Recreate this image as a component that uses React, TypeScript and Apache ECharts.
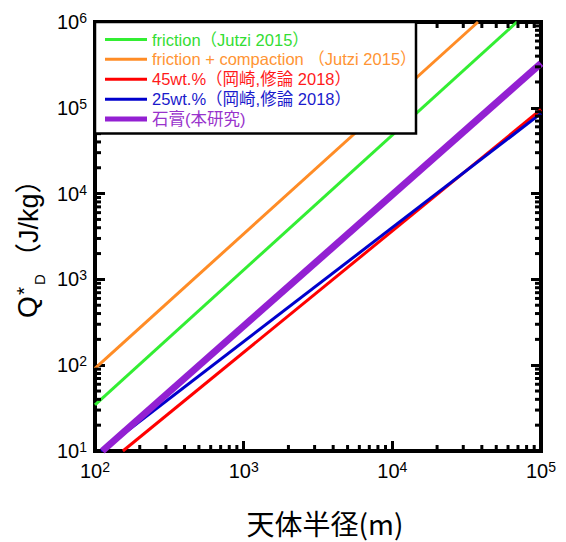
import React, { useEffect, useRef } from "react";
import * as echarts from "echarts";

// ---- data ----
const xMin = 100;
const xMax = 100000;
const yMin = 10;
const yMax = 1000000;

const seriesNames = [
  "friction（Jutzi 2015）",
  "friction + compaction （Jutzi 2015）",
  "45wt.%（岡崎,修論 2018）",
  "25wt.%（岡崎,修論 2018）",
  "石膏(本研究)",
];
const lineColors = ["#33ee33", "#ff8c26", "#ff0000", "#0000cc", "#9320d2"];
const textColors = ["#33dd33", "#ff9433", "#ff1a1a", "#1a1acc", "#9933cc"];

const frictionData = [[100, 34.5], [68900, 1000000]];
const compactionData = [[100, 92], [37700, 1000000]];
const wt45Data = [[154, 10], [100000, 95500]];
const wt25Data = [[110, 10], [100000, 86000]];
const gypsumData = [[112, 10], [100000, 330000]];

const xMinorTicks = [
  200, 300, 400, 500, 600, 700, 800, 900,
  2000, 3000, 4000, 5000, 6000, 7000, 8000, 9000,
  20000, 30000, 40000, 50000, 60000, 70000, 80000, 90000,
];
const yMinorTicks = [
  20, 30, 40, 50, 60, 70, 80, 90,
  200, 300, 400, 500, 600, 700, 800, 900,
  2000, 3000, 4000, 5000, 6000, 7000, 8000, 9000,
  20000, 30000, 40000, 50000, 60000, 70000, 80000, 90000,
  200000, 300000, 400000, 500000, 600000, 700000, 800000, 900000,
];

const LATIN = "'Liberation Sans', 'Noto Sans CJK JP', sans-serif";
const CJK = "'Noto Sans CJK JP', 'Liberation Sans', sans-serif";

const GRID = { left: 95, right: 25, top: 22, bottom: 74 };
const MAJOR_LEN = 10;
const MINOR_LEN = 6;
const TICK_W = 3;

function powLabel(v: number) {
  return `{b|10}{s|${Math.round(Math.log10(v))}}`;
}
const labelRich = {
  b: { fontSize: 20, fontFamily: LATIN, color: "#000", lineHeight: 22 },
  s: { fontSize: 14, fontFamily: LATIN, color: "#000", lineHeight: 14, verticalAlign: "top" as const },
};

function axis(isX: boolean, position: string, withLabel: boolean) {
  return {
    type: "log",
    min: isX ? xMin : yMin,
    max: isX ? xMax : yMax,
    position,
    axisLine: { show: true, onZero: false, lineStyle: { color: "#000", width: 4 } },
    splitLine: { show: false },
    axisTick: {
      show: true,
      inside: true,
      length: MAJOR_LEN,
      lineStyle: { color: "#000", width: TICK_W },
    },
    axisLabel: withLabel
      ? {
          show: true,
          margin: isX ? 9 : 8,
          formatter: powLabel,
          rich: labelRich,
          showMinLabel: true,
          showMaxLabel: true,
        }
      : { show: false },
  };
}

export default function App() {
  const ref = useRef<HTMLDivElement>(null);
  useEffect(() => {
    if (!ref.current) return;
    const chart = echarts.init(ref.current, null, { renderer: "svg" });
    const datasets = [frictionData, compactionData, wt45Data, wt25Data, gypsumData];

    const lineSeries = seriesNames.map((n, i) => ({
      name: n,
      type: "line",
      xAxisIndex: 0,
      yAxisIndex: 0,
      data: datasets[i],
      symbol: "none",
      clip: true,
      lineStyle: { color: lineColors[i], width: i === 4 ? 7 : 3 },
      itemStyle: { color: lineColors[i] },
      z: 2 + i,
    }));

    chart.setOption({
      animation: false,
      backgroundColor: "#fff",
      grid: {
        ...GRID,
        show: true,
        borderColor: "#000",
        borderWidth: 4,
        backgroundColor: "transparent",
      },
      xAxis: [
        {
          ...axis(true, "bottom", true),
          name: "天体半径(m)",
          nameLocation: "middle",
          nameGap: 58,
          nameTextStyle: { fontSize: 28, fontFamily: CJK, color: "#000", padding: [0, 0, 0, 14] },
        },
        axis(true, "top", false),
      ],
      yAxis: [axis(false, "left", true), axis(false, "right", false)],
      series: lineSeries,
    });

    // ---- minor tick marks, positioned through the axes' own log scales ----
    const toPx = (x: number, y: number) => chart.convertToPixel({ gridIndex: 0 }, [x, y]) as number[];
    const c0 = toPx(xMin, yMin);
    const c1 = toPx(xMax, yMax);
    const left = c0[0];
    const bottom = c0[1];
    const right = c1[0];
    const top = c1[1];
    const tickEls: any[] = [];
    const tl = (x1: number, y1: number, x2: number, y2: number) =>
      tickEls.push({
        type: "line",
        z: 50,
        silent: true,
        shape: { x1, y1, x2, y2 },
        style: { stroke: "#000", lineWidth: TICK_W },
      });
    xMinorTicks.forEach((v) => {
      const x = toPx(v, yMin)[0];
      tl(x, bottom, x, bottom - MINOR_LEN);
      tl(x, top, x, top + MINOR_LEN);
    });
    yMinorTicks.forEach((v) => {
      const y = toPx(xMin, v)[1];
      tl(left, y, left + MINOR_LEN, y);
      tl(right, y, right - MINOR_LEN, y);
    });

    // ---- legend box ----
    const rowY = [39.5, 59.3, 79.3, 99.3, 119];
    const legendEls: any[] = [
      {
        type: "rect",
        z: 100,
        shape: { x: 95, y: 22, width: 321, height: 111.5 },
        style: { fill: "#fff", stroke: "#000", lineWidth: 2.5 },
      },
    ];
    seriesNames.forEach((n, i) => {
      legendEls.push({
        type: "line",
        z: 101,
        shape: { x1: 105, y1: rowY[i], x2: 147, y2: rowY[i] },
        style: { stroke: lineColors[i], lineWidth: i === 4 ? 5 : 3 },
      });
      legendEls.push({
        type: "text",
        z: 101,
        x: 152,
        y: rowY[i],
        style: {
          text: n,
          fill: textColors[i],
          fontSize: 16.5,
          fontFamily: LATIN,
          align: "left",
          verticalAlign: "middle",
          textAlign: "left",
          textVerticalAlign: "middle",
        },
      });
    });

    const tStyle = (text: string, size: number, family: string) => ({
      text,
      fill: "#000",
      fontSize: size,
      fontFamily: family,
      align: "left",
      verticalAlign: "middle",
      textAlign: "left",
      textVerticalAlign: "middle",
    });

    const yTitle = {
      type: "group",
      x: 27,
      y: 318,
      rotation: Math.PI / 2,
      children: [
        { type: "text", x: 0, y: 0, style: tStyle("Q", 28, LATIN) },
        { type: "text", x: 23, y: -4, style: tStyle("*", 21, LATIN) },
        { type: "text", x: 33, y: 12, style: tStyle("D", 15, LATIN) },
        { type: "text", x: 48, y: 2, style: tStyle("（J/kg）", 27, LATIN) },
      ],
    };

    chart.setOption({ graphic: [...tickEls, ...legendEls, yTitle] });
    return () => chart.dispose();
  }, []);
  return <div ref={ref} style={{ width: 566, height: 542, position: "absolute", left: 0, top: 0 }} />;
}
